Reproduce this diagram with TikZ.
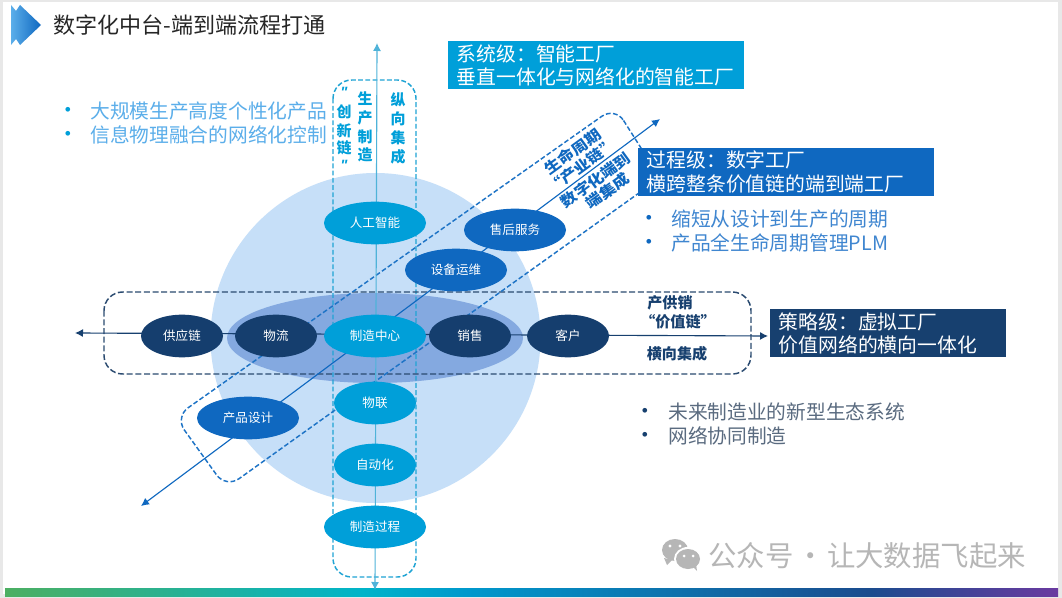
\documentclass[tikz,border=0pt]{standalone}
\usepackage{fontspec}
\setmainfont{Noto Sans CJK SC}
\newfontfamily\latinmark{Liberation Sans}
\usetikzlibrary{shapes.geometric,arrows.meta}
\definecolor{sysblue}{HTML}{009FD9}
\definecolor{procblue}{HTML}{0F68C0}
\definecolor{navy}{HTML}{17406F}
\definecolor{halo}{HTML}{C6DFF8}
\definecolor{inner}{HTML}{84A9E0}
\definecolor{ovaldark}{HTML}{153E6E}
\definecolor{dashteal}{HTML}{20A4D4}
\definecolor{dashnavy}{HTML}{2A4A70}
\definecolor{dashdiag}{HTML}{1F74C6}
\definecolor{vline}{HTML}{4FB3D9}
\definecolor{toptext}{HTML}{5BAEEA}
\definecolor{midtext}{HTML}{3F86D0}
\definecolor{lowtext}{HTML}{5A6B80}
\definecolor{wm}{HTML}{B6B6B6}
\definecolor{barA}{HTML}{4CAF62}
\definecolor{barB}{HTML}{00B4C9}
\definecolor{barC}{HTML}{0098CC}
\definecolor{barD}{HTML}{1A4C8E}
\definecolor{barE}{HTML}{6A3AA0}
\pgfdeclarehorizontalshading{barshade}{100bp}{color(0bp)=(barA);color(25bp)=(barA);color(42bp)=(barB);color(47bp)=(barC);color(66bp)=(barD);color(75bp)=(barE);color(100bp)=(barE)}
\newcommand{\squeezed}[1]{\scalebox{1.07}[0.95]{#1}}
\tikzset{
  oval/.style={ellipse,inner sep=0pt,minimum height=32pt,text=white,font=\fontsize{9.4}{11}\selectfont},
  wideoval/.style={oval,minimum width=76.5pt},
  slimoval/.style={oval,minimum width=61.5pt},
  infobox/.style={anchor=north west,inner xsep=6.5pt,inner ysep=0pt,text=white,align=left,font=\fontsize{14.85}{17.6}\selectfont},
  para/.style={anchor=west,inner sep=0pt,font=\fontsize{14.8}{17}\selectfont},
  dot/.style={inner sep=0pt,font=\latinmark\fontsize{13}{14}\selectfont},
  vchar/.style={inner sep=0pt,font=\bfseries\fontsize{11.2}{12}\selectfont,text=sysblue},
  vquote/.style={inner sep=0pt,font=\latinmark\bfseries\itshape\fontsize{11.2}{12}\selectfont,text=sysblue},
  hlabel/.style={inner sep=0pt,font=\bfseries\fontsize{11.3}{13}\selectfont,text=navy},
  dlabel/.style={inner sep=0pt,rotate=36,font=\bfseries\fontsize{11.5}{13}\selectfont,text=procblue},
  dashbox/.style={dash pattern=on 3.6pt off 1.8pt,line width=1.1pt},
  twoway/.style={{Latex[length=6pt,width=6pt]}-{Latex[length=6pt,width=6pt]},line width=0.85pt}
}
\begin{document}
\begin{tikzpicture}[x=0.75pt,y=-0.75pt]
\useasboundingbox (0,0) rectangle (1062,598);
% page
\fill[black!9] (0,0) rectangle (1062,598);
\fill[white] (3,2) rectangle (1058,594);
\shade[shading=barshade] (5,588) rectangle (1058,596);
% title chevron
\path[left color=toptext,right color=procblue] (11,5) -- (16,11) -- (20,5) -- (41,25) -- (20,45) -- (16,39) -- (11,45) -- cycle;
\node[anchor=west,inner sep=0pt,font=\fontsize{16.55}{18}\selectfont,text=black!85] (title) at (53,25) {数字化中台-端到端流程打通};
% background discs
\fill[halo] (375.5,338) circle (165);
\fill[inner] (375,338) ellipse (148 and 45);
% dashed frames
\draw[dashbox,dashteal,rounded corners=14pt] (333,80) rectangle (416,577);
\draw[dashbox,dashnavy,dash pattern=on 4.5pt off 2pt,rounded corners=14pt] (104,292) rectangle (751,374);
\draw[dashbox,dashdiag,rounded corners=12pt] (615,107) -- (660,178) -- (226,488) -- (175,417) -- cycle;
% axis end points
\coordinate (vtop) at (377,43);
\coordinate (vbot) at (375,590);
\coordinate (hleft) at (75,333);
\coordinate (hright) at (768,336);
\coordinate (dtop) at (660,119);
\coordinate (dbot) at (141,506);
\draw[twoway,vline] (vbot) -- (vtop);
\draw[twoway,navy] (hleft) -- (hright);
\draw[twoway,procblue] (dbot) -- (dtop);
% ovals
\node[wideoval,fill=sysblue] (ai) at (375,223) {人工智能};
\node[wideoval,fill=procblue] (service) at (515,230) {售后服务};
\node[wideoval,fill=procblue] (ops) at (456,270) {设备运维};
\node[slimoval,fill=ovaldark] (supply) at (182,336) {供应链};
\node[slimoval,fill=ovaldark] (logistics) at (276,336) {物流};
\node[wideoval,fill=sysblue] (center) at (375,336) {制造中心};
\node[slimoval,fill=ovaldark] (sales) at (470,336) {销售};
\node[slimoval,fill=ovaldark] (customer) at (568,336) {客户};
\node[wideoval,fill=procblue] (design) at (248,418) {产品设计};
\node[slimoval,fill=sysblue] (iot) at (375,403) {物联};
\node[slimoval,fill=sysblue] (auto) at (375,465) {自动化};
\node[wideoval,fill=sysblue] (process) at (375,527) {制造过程};
% level boxes
\node[infobox,fill=sysblue,minimum width=222pt,minimum height=36pt,text width=209pt] (sys) at (448,41) {系统级：智能工厂\\垂直一体化与网络化的智能工厂};
\node[infobox,fill=procblue,minimum width=222pt,minimum height=35.5pt,text width=209pt] (proc) at (638,148) {过程级：数字工厂\\横跨整条价值链的端到端工厂};
\node[infobox,fill=navy,minimum width=177pt,minimum height=36pt,text width=164pt] (strat) at (770,309) {策略级：虚拟工厂\\价值网络的横向一体化};
% vertical labels
\node[vquote] (a0) at (344,92) {"};
\node[vchar] (a1) at (344,112) {创};
\node[vchar] (a2) at (344,130.5) {新};
\node[vchar] (a3) at (344,148) {链};
\node[vquote] (a4) at (344,165) {"};
\node[vchar] (b1) at (365,99) {生};
\node[vchar] (b2) at (365,118) {产};
\node[vchar] (b3) at (365,137) {制};
\node[vchar] (b4) at (365,155) {造};
\node[vchar] (c1) at (398,100) {纵};
\node[vchar] (c2) at (398,119) {向};
\node[vchar] (c3) at (398,138) {集};
\node[vchar] (c4) at (398,157) {成};
% horizontal labels
\node[hlabel] (h1) at (670,303) {产供销};
\node[hlabel] (h2) at (678,322) {“价值链”};
\node[hlabel] (h3) at (677,354) {横向集成};
% diagonal labels
\node[dlabel] (d1) at (572.7,151.7) {\squeezed{生命周期}};
\node[dlabel] (d2) at (582,166) {\squeezed{“产业链”}};
\node[dlabel] (d3) at (595.7,180) {\squeezed{数字化端到}};
\node[dlabel] (d4) at (607.5,191) {\squeezed{端集成}};
% bullets
\node[para,text=toptext] (t1) at (90,111) {大规模生产高度个性化产品};
\node[para,text=toptext] (t2) at (90,135) {信息物理融合的网络化控制};
\node[dot,text=sysblue] (tb1) at (68,111) {•};
\node[dot,text=sysblue] (tb2) at (68,135) {•};
\node[para,text=midtext] (m1) at (671,219) {缩短从设计到生产的周期};
\node[para,text=midtext] (m2) at (671,243) {产品全生命周期管理PLM};
\node[dot,text=procblue] (mb1) at (649,219) {•};
\node[dot,text=procblue] (mb2) at (649,243) {•};
\node[para,text=lowtext] (l1) at (668,412) {未来制造业的新型生态系统};
\node[para,text=lowtext] (l2) at (668,436) {网络协同制造};
\node[dot,text=navy] (lb1) at (645,412) {•};
\node[dot,text=navy] (lb2) at (645,436) {•};
% watermark
\fill[wm] (675,550) ellipse (13 and 11);
\fill[wm] (664,558) -- (667,565) -- (672,560) -- cycle;
\fill[white] (688,559) ellipse (14 and 12);
\fill[wm] (688,559) ellipse (12 and 10);
\fill[wm] (692,566) -- (697,571) -- (696,564) -- cycle;
\fill[white] (670,546) circle (1.7) (680,546) circle (1.7) (684,556) circle (1.5) (693,556) circle (1.5);
\node[anchor=west,inner sep=0pt,font=\fontsize{21.3}{24}\selectfont,text=wm] (wmtext) at (708,556) {公众号\hspace{2pt}·\hspace{2pt}让大数据飞起来};
\end{tikzpicture}
\end{document}
